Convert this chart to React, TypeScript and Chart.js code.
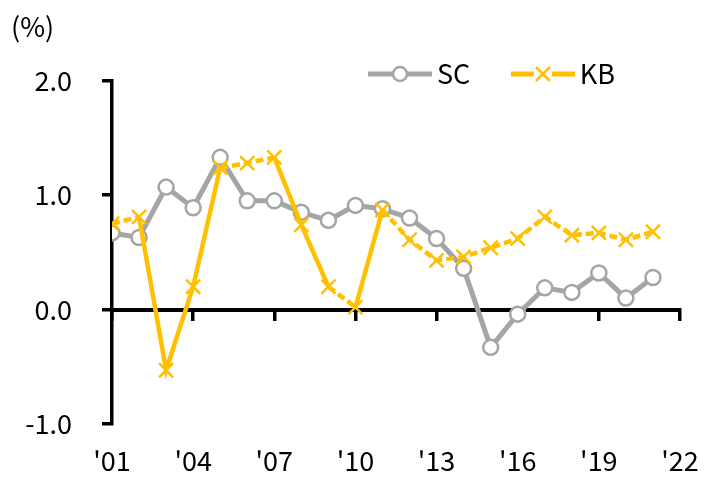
import React, { useEffect, useRef } from "react";
import { Chart, registerables } from "chart.js";

Chart.register(...registerables);

const years = [2001, 2002, 2003, 2004, 2005, 2006, 2007, 2008, 2009, 2010, 2011, 2012, 2013, 2014, 2015, 2016, 2017, 2018, 2019, 2020, 2021];
const scValues = [0.67, 0.63, 1.07, 0.89, 1.33, 0.95, 0.95, 0.85, 0.78, 0.91, 0.88, 0.80, 0.62, 0.36, -0.33, -0.04, 0.19, 0.15, 0.32, 0.10, 0.28];
const kbValues = [0.75, 0.81, -0.53, 0.20, 1.24, 1.28, 1.33, 0.74, 0.20, 0.02, 0.87, 0.61, 0.43, 0.46, 0.54, 0.62, 0.81, 0.65, 0.67, 0.61, 0.68];
const seriesNames = ["SC", "KB"];
const yTicks = { min: -1, max: 2, step: 1 };
const xTicks = { min: 2001, max: 2022, step: 3 };

const FONT = "'Noto Sans CJK KR', 'Noto Sans', sans-serif";
const GRAY = "#A5A5A5";
const GOLD = "#FFC000";

function makeLegendSample(kind: string, color: string): HTMLCanvasElement {
  const c = document.createElement("canvas");
  const blank = 47;
  const lineW = 64;
  c.width = blank + lineW;
  c.height = 24;
  const g = c.getContext("2d")!;
  const cy = 12;
  const cx = blank + lineW / 2;
  g.strokeStyle = color;
  g.lineWidth = 5;
  g.lineCap = "butt";
  if (kind === "circle") {
    g.beginPath();
    g.moveTo(blank, cy);
    g.lineTo(blank + lineW, cy);
    g.stroke();
    g.beginPath();
    g.arc(cx, cy, 7, 0, Math.PI * 2);
    g.fillStyle = "#fff";
    g.fill();
    g.lineWidth = 2.5;
    g.stroke();
  } else {
    g.beginPath();
    g.moveTo(blank, cy);
    g.lineTo(cx - 9, cy);
    g.moveTo(cx + 9, cy);
    g.lineTo(blank + lineW, cy);
    g.stroke();
    g.lineWidth = 2.5;
    g.beginPath();
    g.moveTo(cx - 7, cy - 7);
    g.lineTo(cx + 7, cy + 7);
    g.moveTo(cx + 7, cy - 7);
    g.lineTo(cx - 7, cy + 7);
    g.stroke();
  }
  return c;
}

const legendPlacer = {
  id: "legendPlacer",
  afterLayout(chart: any) {
    const lg = chart.legend;
    if (!lg) return;
    const h = lg.height;
    lg.top = 58.5;
    lg.bottom = lg.top + h;
    lg.left = 327.5;
  },
};

export default function App() {
  const ref = useRef<HTMLCanvasElement | null>(null);

  useEffect(() => {
    if (!ref.current) return;
    Chart.defaults.font.family = FONT;
    Chart.defaults.color = "#000";

    const chart = new Chart(ref.current, {
      type: "line",
      data: {
        datasets: [
          {
            label: seriesNames[0],
            data: years.map((yr, i) => ({ x: yr, y: scValues[i] })),
            borderColor: GRAY,
            borderWidth: 5,
            pointStyle: "circle",
            pointRadius: 7.5,
            pointBackgroundColor: "#fff",
            pointBorderColor: GRAY,
            pointBorderWidth: 2.5,
            tension: 0,
            order: 2,
            xAxisID: "x",
          },
          {
            label: seriesNames[1],
            data: years.map((yr, i) => ({ x: yr, y: kbValues[i] })),
            borderColor: GOLD,
            borderWidth: 4.5,
            pointStyle: "crossRot",
            pointRadius: 10,
            pointBackgroundColor: GOLD,
            pointBorderColor: GOLD,
            pointBorderWidth: 2.5,
            tension: 0,
            order: 1,
            xAxisID: "x",
            segment: {
              borderDash: (ctx: any) => {
                const len = Math.hypot(ctx.p1.x - ctx.p0.x, ctx.p1.y - ctx.p0.y);
                return len < 55 ? [8, 4] : undefined;
              },
            },
          },
        ],
      },
      options: {
        responsive: false,
        animation: false,
        devicePixelRatio: 1,
        layout: { padding: { left: 11, right: 26, top: 0, bottom: 0 } },
        plugins: {
          tooltip: { enabled: false },
          title: {
            display: true,
            text: "(%)",
            align: "start",
            color: "#000",
            font: { family: FONT, size: 27, lineHeight: 1.1, weight: "normal" },
            padding: { top: 12, bottom: 0 },
          },
          legend: {
            display: true,
            position: "top",
            align: "start",
            labels: {
              usePointStyle: true,
              pointStyleWidth: 94,
              padding: 2,
              color: "#000",
              font: { family: FONT, size: 27 },
              sort: (a: any, b: any) => a.datasetIndex - b.datasetIndex,
              generateLabels: (ch: any) => {
                const items = (Chart.defaults.plugins.legend.labels as any).generateLabels(ch);
                return items.map((it: any) => {
                  const ds: any = ch.data.datasets[it.datasetIndex];
                  return { ...it, pointStyle: makeLegendSample(ds.pointStyle, ds.borderColor) };
                });
              },
            },
          },
        },
        scales: {
          x: {
            type: "linear",
            position: "bottom",
            min: xTicks.min,
            max: xTicks.max,
            afterFit: (s: any) => {
              s.height = 71;
            },
            ticks: {
              stepSize: xTicks.step,
              padding: 1,
              color: "#000",
              font: { family: FONT, size: 27 },
              callback: (v: any) => "'" + String(v).slice(-2),
              maxRotation: 0,
              autoSkip: false,
            },
            grid: {
              display: true,
              drawOnChartArea: false,
              drawTicks: true,
              tickLength: 20,
              color: "rgba(0,0,0,0)",
            },
            border: { display: false },
          },
          x2: {
            type: "linear",
            axis: "x",
            position: { y: 0 },
            min: xTicks.min,
            max: xTicks.max,
            ticks: { stepSize: xTicks.step, display: false, autoSkip: false },
            grid: {
              display: true,
              drawOnChartArea: false,
              drawTicks: true,
              tickLength: 9,
              color: "#000",
              lineWidth: 3.5,
            },
            border: { display: true, color: "#000", width: 4 },
          },
          y: {
            type: "linear",
            position: "left",
            min: yTicks.min,
            max: yTicks.max,
            afterFit: (s: any) => {
              s.width = 101;
            },
            ticks: {
              stepSize: yTicks.step,
              padding: 30,
              color: "#000",
              font: { family: FONT, size: 27 },
              callback: (v: any) => Number(v).toFixed(1),
            },
            grid: {
              display: true,
              drawOnChartArea: false,
              drawTicks: true,
              tickLength: 10,
              color: "#000",
              lineWidth: 3.5,
            },
            border: { display: true, color: "#000", width: 3.5 },
          },
        },
      } as any,
      plugins: [legendPlacer],
    });

    return () => chart.destroy();
  }, []);

  return (
    <div style={{ position: "absolute", left: 0, top: 0, width: 706, height: 495, background: "#fff" }}>
      <canvas ref={ref} width={706} height={495} style={{ display: "block", width: 706, height: 495 }} />
    </div>
  );
}
